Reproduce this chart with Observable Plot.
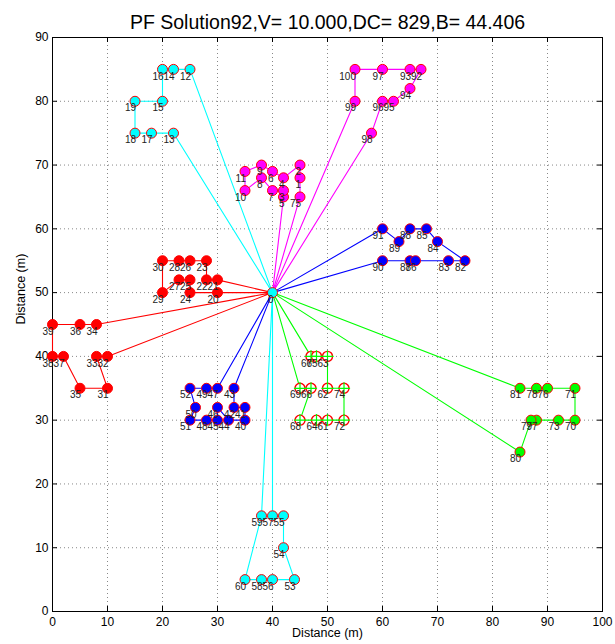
<!DOCTYPE html>
<html><head><meta charset="utf-8">
<script src="https://cdn.jsdelivr.net/npm/d3@7"></script>
<script src="https://cdn.jsdelivr.net/npm/@observablehq/plot@0.6"></script>
<style>body{margin:0;background:#fff} svg{font-family:"Liberation Sans",Arial,Helvetica,sans-serif}</style>
</head><body><div id="chart"></div>
<script>
const title = "PF Solution92,V= 10.000,DC= 829,B= 44.406";
const xLabel = "Distance (m)";
const yLabel = "Distance (m)";
// customer coordinates, index 0 = depot
const custX = [40,
 45,45,42,42,42,40,40,38,38,35,
 35,25,22,22,20,20,18,15,15,30,
 30,28,28,25,25,25,23,23,20,20,
 10,10,8,8,5,5,2,0,0,35,
 35,33,33,32,30,30,30,28,28,26,
 25,25,44,42,42,40,40,38,38,35,
 50,50,50,48,48,47,47,45,45,95,
 95,53,92,53,45,90,88,88,87,85,
 85,75,72,70,68,66,65,65,63,60,
 60,67,65,65,62,60,60,58,55,55];
const custY = [50,
 68,70,66,68,65,69,66,68,70,66,
 69,85,75,85,80,85,75,75,80,50,
 52,52,55,50,52,55,52,55,50,55,
 35,40,40,45,35,45,40,40,45,30,
 32,32,35,30,30,32,35,30,35,32,
 30,35,5,10,15,5,15,5,15,5,
 30,35,40,30,40,35,40,30,35,30,
 35,30,30,35,65,35,30,35,30,25,
 35,55,55,58,60,55,55,60,58,55,
 60,85,85,82,80,80,85,75,80,85];
const routes = [
 [13,17,18,19,15,16,14,12],
 [5,3,7,8,10,11,9,6,4,2,1,75],
 [98,96,95,94,92,93,97,100,99],
 [90,87,86,83,82,84,85,88,89,91],
 [20,24,25,27,29,30,28,26,23,22,21],
 [32,33,31,35,37,38,39,36,34],
 [43,42,41,40,44,46,45,48,51,50,52,49,47],
 [67,65,63,62,74,72,61,64,68,66,69],
 [81,78,76,71,70,73,77,79,80],
 [57,55,54,53,56,58,60,59]
];
const routeColors = ["#00ffff","#ff00ff","#ff00ff","#0000ff","#ff0000","#ff0000","#0000ff","#00ff00","#00ff00","#00ffff"];
const hollowRoute = 7;
const depotColor = "#00ffff";
const xTicks = [0,10,20,30,40,50,60,70,80,90,100];
const yTicks = [0,10,20,30,40,50,60,70,80,90];

const W = 615, H = 644, mL = 52, mR = 13, mT = 37, mB = 33;
const frameH = H - mT - mB, frameW = W - mL - mR;

const pathPts = [];
routes.forEach((r, k) => {
  [0, ...r, 0].forEach((c, j) => pathPts.push({x: custX[c], y: custY[c], route: k, color: routeColors[k], order: j}));
});
const stops = [];
routes.forEach((r, k) => r.forEach(c => stops.push({id: c, x: custX[c], y: custY[c], color: routeColors[k], hollow: k === hollowRoute})));
const filled = stops.filter(d => !d.hollow);
const hollow = stops.filter(d => d.hollow);
const depot = [{id: 0, x: custX[0], y: custY[0]}];

const chart = Plot.plot({
  width: W, height: H,
  marginLeft: mL, marginRight: mR, marginTop: mT, marginBottom: mB,
  x: {domain: [0, 100]},
  y: {domain: [0, 90]},
  style: {fontFamily: '"Liberation Sans",Arial,Helvetica,sans-serif', background: "#fff", overflow: "visible"},
  marks: [
    Plot.gridX(xTicks.slice(1, -1), {stroke: "#888", strokeOpacity: 1, strokeDasharray: "1,3"}),
    Plot.gridY(yTicks.slice(1, -1), {stroke: "#888", strokeOpacity: 1, strokeDasharray: "1,3"}),
    Plot.ruleX(xTicks, {x: d => d, insetTop: frameH - 5, stroke: "black"}),
    Plot.ruleX(xTicks, {x: d => d, insetBottom: frameH - 5, stroke: "black"}),
    Plot.ruleY(yTicks, {y: d => d, insetRight: frameW - 5, stroke: "black"}),
    Plot.ruleY(yTicks, {y: d => d, insetLeft: frameW - 5, stroke: "black"}),
    Plot.frame({stroke: "black", strokeWidth: 1}),
    Plot.axisX({ticks: xTicks, tickSize: 0, tickPadding: 6, fontSize: 12, label: null, tickFormat: d => String(d)}),
    Plot.axisY({ticks: yTicks, tickSize: 0, tickPadding: 4, fontSize: 12, label: null, tickFormat: d => String(d)}),
    Plot.line(pathPts, {x: "x", y: "y", z: "route", stroke: "color", strokeWidth: 1.1}),
    Plot.dot(filled, {x: "x", y: "y", r: 5, fill: "color", stroke: "#ff0000", strokeWidth: 1}),
    Plot.dot(hollow, {x: "x", y: "y", r: 5, fill: "white", stroke: "#ff0000", strokeWidth: 1.4}),
    Plot.dot(hollow, {x: "x", y: "y", r: 4, symbol: "plus", stroke: "color", strokeWidth: 1.2}),
    Plot.dot(depot, {x: "x", y: "y", r: 5, fill: depotColor, stroke: "#ff0000", strokeWidth: 1}),
    Plot.text([...stops, ...depot], {x: "x", y: "y", text: d => String(d.id), textAnchor: "end", dx: 1, dy: 7, fontSize: 10, fill: "#222"}),
    Plot.text([title], {frameAnchor: "top", dy: -22, fontSize: 19.5, fill: "black"}),
    Plot.text([xLabel], {frameAnchor: "bottom", dy: 25, fontSize: 12.5, fill: "black"}),
    Plot.text([yLabel], {frameAnchor: "left", dx: -32, rotate: -90, fontSize: 12.5, fill: "black"})
  ]
});
document.getElementById("chart").appendChild(chart);
</script>
</body></html>
